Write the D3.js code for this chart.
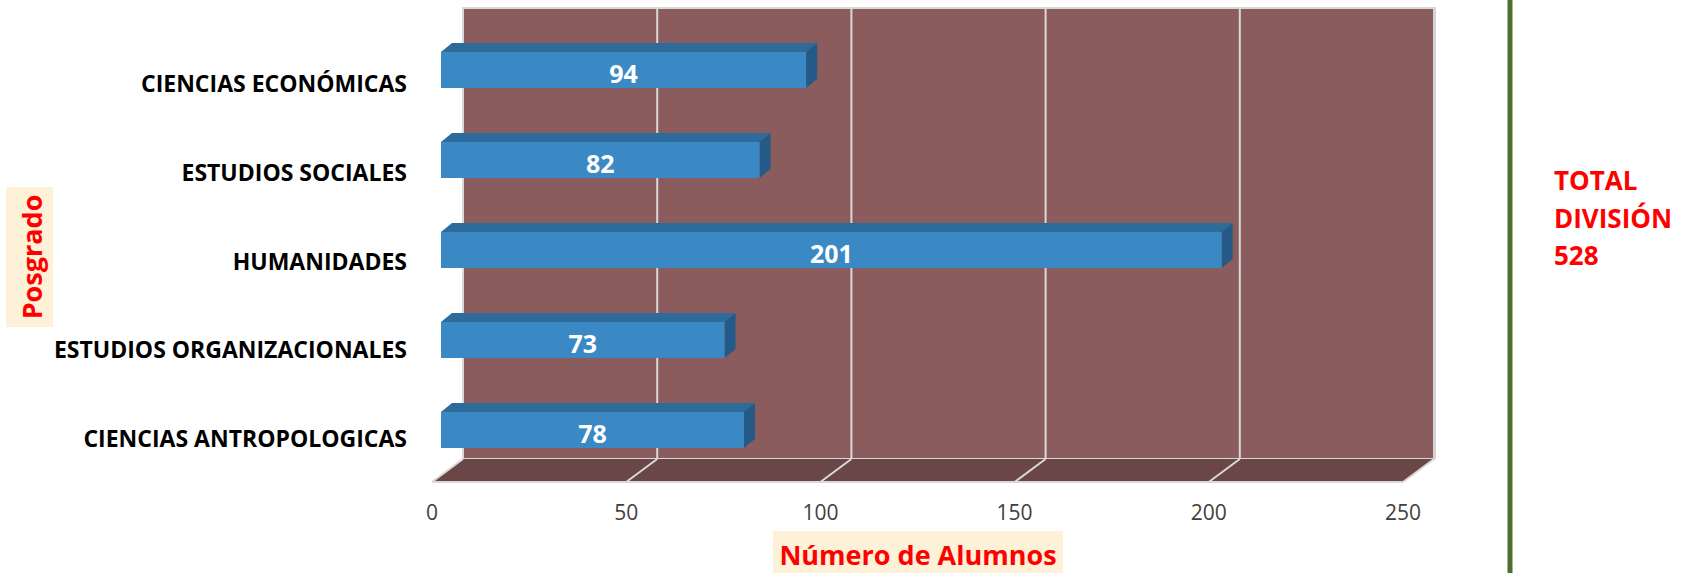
<!DOCTYPE html>
<html>
<head>
<meta charset="utf-8">
<script src="https://cdn.jsdelivr.net/npm/d3@7"></script>
<style>
  body { margin: 0; background: #fff; }
  svg { display: block; font-family: "Open Sans", sans-serif; }
</style>
</head>
<body>
<div id="chart"></div>
<script>
// datos del gráfico
let categories = ['CIENCIAS ECONÓMICAS', 'ESTUDIOS SOCIALES', 'HUMANIDADES',
                  'ESTUDIOS ORGANIZACIONALES', 'CIENCIAS ANTROPOLOGICAS'];
let alumnos = [94, 82, 201, 73, 78];
let ticks = [0, 50, 100, 150, 200, 250];
let totalLines = ['TOTAL', 'DIVISIÓN', '528'];
const X_TITLE = 'Número de Alumnos';
const Y_TITLE = 'Posgrado';

const width = 1683;
const height = 573;

// profundidad del piso / pared (3D de Excel)
const DEPTH_X = 31, DEPTH_Y = 23;
const BAR_DX = 11, BAR_DY = 9, BAR_H = 36;

const wallTop = 8, wallBottom = 459, floorFront = wallBottom + DEPTH_Y;

let svg = d3.select('#chart').append('svg')
  .attr('width', width).attr('height', height);

// escalas
let xFront = d3.scaleLinear().domain([0, 250]).range([432, 1403]);
let xBack = d3.scaleLinear().domain([0, 250]).range([432 + DEPTH_X, 1403 + DEPTH_X]);
let xBar = d3.scaleLinear().domain([0, 250]).range([441, 1412]);
let yBar = d3.scalePoint().domain(categories).range([70, 430]);
let yLabel = d3.scalePoint().domain(categories).range([92, 447]);

const gridColor = '#d9d9d9';

// pared del fondo
svg.append('rect')
  .attr('x', xBack(0)).attr('y', wallTop)
  .attr('width', xBack(250) - xBack(0)).attr('height', wallBottom - wallTop)
  .attr('fill', '#8b5c5d')
  .attr('stroke', gridColor).attr('stroke-width', 2);
svg.append('rect')
  .attr('x', xBack(250) - 1).attr('y', wallTop - 1)
  .attr('width', 3).attr('height', wallBottom - wallTop + 1)
  .attr('fill', '#d4d4d4');

// piso
svg.append('path')
  .attr('d', `M${xBack(0)},${wallBottom} L${xBack(250)},${wallBottom} L${xFront(250)},${floorFront} L${xFront(0)},${floorFront} Z`)
  .attr('fill', '#6b4647');
svg.append('line')
  .attr('x1', xFront(0)).attr('x2', xFront(250))
  .attr('y1', floorFront).attr('y2', floorFront)
  .attr('stroke', gridColor).attr('stroke-width', 2);

// líneas de la cuadrícula
svg.selectAll('.grid-wall')
  .data(ticks.slice(1, -1))
  .enter().append('line')
  .attr('class', 'grid-wall')
  .attr('x1', d => xBack(d)).attr('x2', d => xBack(d))
  .attr('y1', wallTop).attr('y2', wallBottom)
  .attr('stroke', gridColor).attr('stroke-width', 2);

svg.selectAll('.grid-floor')
  .data(ticks)
  .enter().append('line')
  .attr('class', 'grid-floor')
  .attr('x1', d => xBack(d)).attr('x2', d => xFront(d))
  .attr('y1', wallBottom).attr('y2', floorFront)
  .attr('stroke', gridColor).attr('stroke-width', 2);

// etiquetas del eje x
svg.selectAll('.tick-label')
  .data(ticks)
  .enter().append('text')
  .attr('class', 'tick-label')
  .attr('x', d => xFront(d))
  .attr('y', 520)
  .attr('text-anchor', 'middle')
  .attr('font-size', '21px')
  .attr('fill', '#404040')
  .text(d => d);

// barras 3D
let bars = svg.selectAll('.bar')
  .data(categories.map((c, i) => ({name: c, value: alumnos[i]})))
  .enter().append('g')
  .attr('class', 'bar');

bars.each(function(d) {
  let g = d3.select(this);
  let x0 = xBar(0), x1 = xBar(d.value);
  let top = yBar(d.name) - BAR_H / 2, bottom = top + BAR_H;
  g.append('path')
    .attr('d', `M${x0},${top} L${x0 + BAR_DX},${top - BAR_DY} L${x1 + BAR_DX},${top - BAR_DY} L${x1},${top} Z`)
    .attr('fill', '#2d6b9b');
  g.append('path')
    .attr('d', `M${x1},${top} L${x1 + BAR_DX},${top - BAR_DY} L${x1 + BAR_DX},${bottom - BAR_DY} L${x1},${bottom} Z`)
    .attr('fill', '#245a88');
  g.append('rect')
    .attr('x', x0).attr('y', top)
    .attr('width', x1 - x0).attr('height', BAR_H)
    .attr('fill', '#3a89c5');
  g.append('text')
    .attr('x', (x0 + x1) / 2)
    .attr('y', bottom - 5.5)
    .attr('text-anchor', 'middle')
    .attr('font-size', '25px')
    .attr('font-weight', 'bold')
    .attr('fill', '#ffffff')
    .text(d.value);
});

// etiquetas de categorías
svg.selectAll('.cat-label')
  .data(categories)
  .enter().append('text')
  .attr('class', 'cat-label')
  .attr('x', 407)
  .attr('y', d => yLabel(d))
  .attr('text-anchor', 'end')
  .attr('font-size', '23px')
  .attr('font-weight', 'bold')
  .attr('fill', '#000')
  .text(d => d);

// título eje x
svg.append('rect')
  .attr('x', 773).attr('y', 531).attr('width', 290).attr('height', 42)
  .attr('fill', '#fdf1d8');
svg.append('text')
  .attr('x', 918).attr('y', 565)
  .attr('text-anchor', 'middle')
  .attr('font-size', '27px')
  .attr('font-weight', 'bold')
  .attr('fill', '#ff0000')
  .text(X_TITLE);

// título eje y
svg.append('rect')
  .attr('x', 6).attr('y', 187).attr('width', 47).attr('height', 140)
  .attr('fill', '#fdf1d8');
svg.append('text')
  .attr('transform', 'translate(42,257) rotate(-90)')
  .attr('text-anchor', 'middle')
  .attr('font-size', '27px')
  .attr('font-weight', 'bold')
  .attr('fill', '#ff0000')
  .text(Y_TITLE);

// separador verde
svg.append('line')
  .attr('x1', 1510).attr('x2', 1510)
  .attr('y1', 0).attr('y2', height)
  .attr('stroke', '#4f6f30').attr('stroke-width', 5);

// total
svg.selectAll('.total')
  .data(totalLines)
  .enter().append('text')
  .attr('class', 'total')
  .attr('x', 1554)
  .attr('y', (d, i) => 190 + i * 37.5)
  .attr('font-size', '26px')
  .attr('font-weight', 'bold')
  .attr('fill', '#ff0000')
  .text(d => d);
</script>
</body>
</html>
